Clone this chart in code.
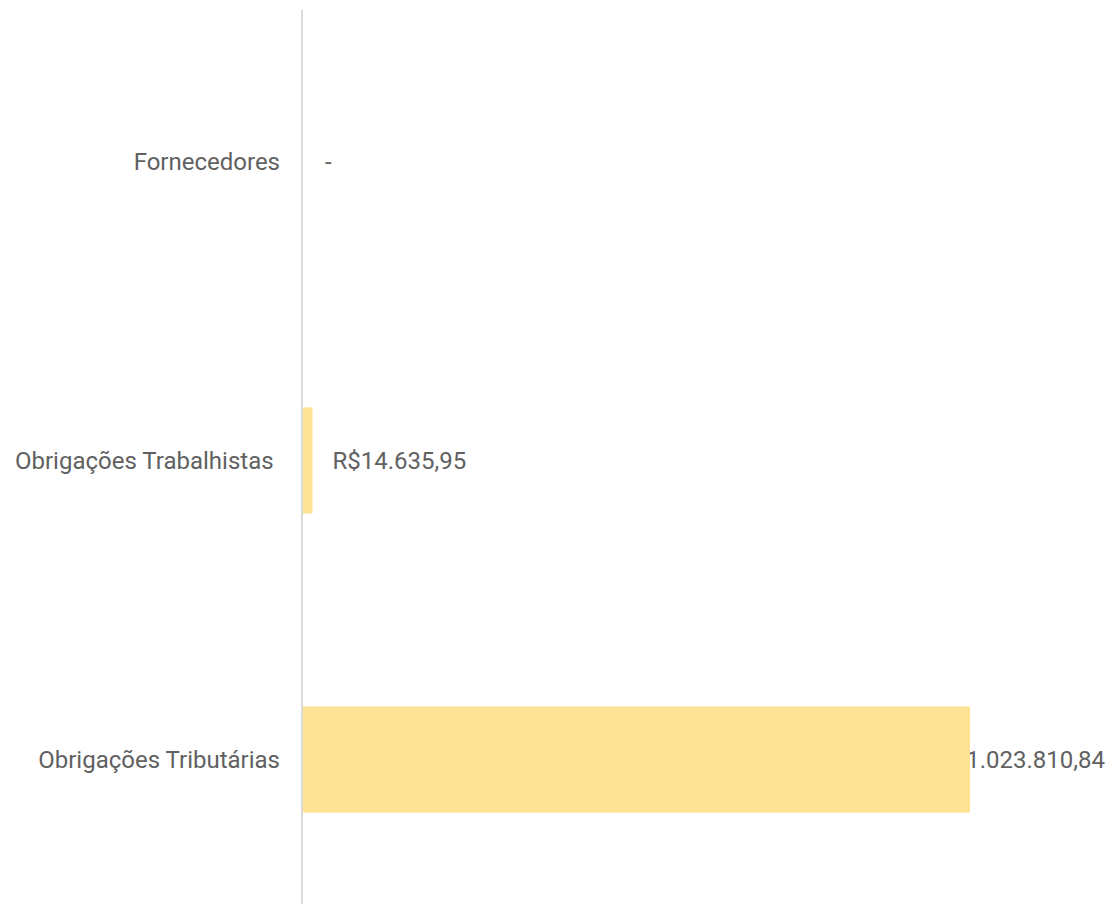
<!DOCTYPE html>
<html>
<head>
<meta charset="utf-8">
<script src="https://cdn.jsdelivr.net/npm/d3@7"></script>
<style>
  html, body { margin: 0; padding: 0; background: #fff; }
  #chart { width: 1110px; height: 904px; }
</style>
</head>
<body>
<div id="chart"></div>
<script>
const categories = ['Fornecedores', 'Obrigações Trabalhistas', 'Obrigações Tributárias']
const values = [0, 14635.95, 1023810.84]

const width = 1110
const height = 904
const margin = { top: 12, right: 5, bottom: 0, left: 302 }
const fontSize = 24

const ptBR = d3.formatLocale({
  decimal: ',',
  thousands: '.',
  grouping: [3],
  currency: ['R$', ''],
})
const fmt = ptBR.format('$,.2f')
const label = (v) => (v === 0 ? '-' : fmt(v))

const data = categories.map((name, i) => ({ name, value: values[i] }))

const x = d3
  .scaleLinear()
  .domain([0, 1023810.84])
  .range([margin.left + 1, 970])

const y = d3
  .scaleBand()
  .domain(categories)
  .range([margin.top, margin.top + 897])
  .paddingInner(0.645)
  .paddingOuter(0.3225)

const svg = d3
  .select('#chart')
  .append('svg')
  .attr('width', width)
  .attr('height', height)
  .style('font-family', 'Roboto, sans-serif')

// value labels first, so the bar hides the part that runs under it
const vals = svg
  .append('g')
  .selectAll('text')
  .data(data)
  .join('text')
  .attr('y', (d) => y(d.name) + y.bandwidth() / 2)
  .attr('dy', '0.35em')
  .attr('font-size', fontSize)
  .attr('fill', '#616161')
  .text((d) => label(d.value))

vals.attr('x', function (d) {
  const w = this.getComputedTextLength()
  return Math.min(x(d.value) + 20 + (d.value === 0 ? 2 : 0), width - margin.right - w)
})

svg
  .append('g')
  .selectAll('rect')
  .data(data)
  .join('rect')
  .attr('x', x(0))
  .attr('y', (d) => y(d.name))
  .attr('width', (d) => x(d.value) - x(0))
  .attr('height', y.bandwidth())
  .attr('fill', '#fde293')

// category labels: right aligned, long ones pinned to the left edge
const cats = svg
  .append('g')
  .selectAll('text')
  .data(data)
  .join('text')
  .attr('y', (d) => y(d.name) + y.bandwidth() / 2)
  .attr('dy', '0.35em')
  .attr('font-size', fontSize)
  .attr('fill', '#616161')
  .text((d) => d.name)

cats.attr('x', function () {
  const w = this.getComputedTextLength()
  return w > 250 ? 15 : margin.left - 22 - w
})

// baseline
svg
  .append('line')
  .attr('x1', margin.left)
  .attr('x2', margin.left)
  .attr('y1', 10)
  .attr('y2', height)
  .attr('stroke', '#dadada')
  .attr('stroke-width', 2)
</script>
</body>
</html>
